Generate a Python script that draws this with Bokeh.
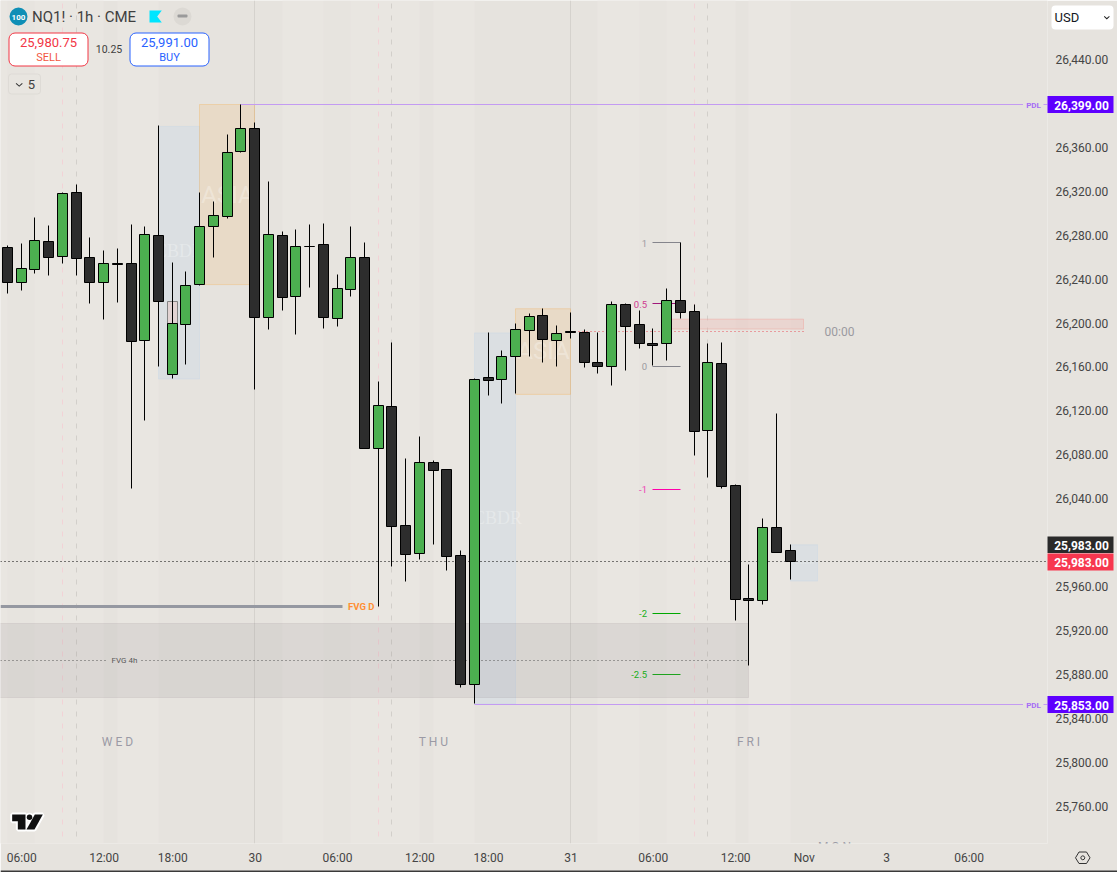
import math
from bokeh.plotting import figure
from bokeh.models import Range1d, FixedTicker, Label, BoxAnnotation, PolyAnnotation
from bokeh.core.properties import value
from bokeh.embed import file_html
from bokeh.resources import INLINE

# ---------- data ----------
opens = [26268.5,26236,26248,26274,26260,26318.5,26259,26236,26253.5,26254,26184,26279.5,26153,26198,26235,26287,26297,26355.5,26377,26205,
         26279.5,26223.5,26269,26271,26204,26230.5,26259,26085.5,26123.5,26015,25990,26072.5,26066,25987.5,25870.5,26150,26148.5,26169.5,26192.5,26206.5,
         26183.5,26192,26191,26164,26160,26216.5,26198,26181,26180.5,26220,26210,26102,26163,26051.5,25948.5,25946.5,26013,25992]
highs = [26270.5,26272,26296,26288,26318.5,26326,26277.5,26266,26267.5,26289.5,26287,26379,26254.5,26246.5,26318,26310.5,26371.5,26399,26382.5,26328,
         26283,26285,26289.5,26290.5,26244,26287,26272.5,26146.5,26182,26076.5,26096.5,26074.5,26066,25992.5,26149,26191,26174.5,26199.5,26208.5,26213,
         26197.5,26209.5,26194,26191,26219.5,26217.5,26210.5,26195,26231,26273,26216.5,26181,26182,26052.5,25979.5,26021.5,26117.5,25998]
lows = [26226,26229.5,26245,26243,26254,26243,26217.5,26203,26218.5,26048.5,26111,26159.5,26149,26162,26234,26259.5,26295,26354.5,26139,26194,
        26211,26189.5,26232,26195,26196.5,26224,26085.5,25941.5,25978,25964,25984,25998,25974.5,25868,25853,26133.5,26126.5,26135.5,26169.5,26164,
        26160,26185.5,26159,26154,26143,26156.5,26176.5,26161,26165.5,26204,26079,26059,26049,25928.5,25887.5,25943,25991,25966]
closes = [26236,26249.25,26274.75,26259,26317.5,26258,26236,26254,26252.5,26183,26280,26219.5,26199,26233.5,26287.5,26297.5,26355,26377,26205,26280,
          26222.5,26269,26269,26205,26231,26259,26085.5,26124.5,26014.5,25989,26072.5,26065.5,25987,25870.5,26148,26147,26169,26193.5,26205.5,26184.5,
          26190,26191,26164,26159.5,26216.5,26196.5,26180.5,26179.5,26220,26209.5,26101,26163.5,26051,25948,25946.5,26013,25991,25982]

y_ticks = [26440,26360,26320,26280,26240,26200,26160,26120,26080,26040,25960,25920,25880,25840,25800,25760]
x_tick_index = [1,7,12,18,24,30,35,41,47,53,58,64,70]
x_tick_labels = ["06:00","12:00","18:00","30","06:00","12:00","18:00","31","06:00","12:00","Nov","3","06:00"]
day_names = ["W E D","T H U","F R I"]
day_index = [8,31,54]
session_index = [4,5,27,28,50,51]       # pink, grey dashed verticals
day_breaks = [18,41]

pdl_high, pdl_low, last_price = 26399.0, 25853.0, 25983.0
sell_price, buy_price, spread = 25980.75, 25991.00, 10.25
fvg_box = (25926.5, 25859.0, 25892.5)
fvg_d = 25942.0
red_box = (26203.5, 26194.5)
midnight = 26192.0
cbdr_boxes = [(11,14,26379,26149),(34,37,26191,25853),(57,59,25998,25965)]
asia_boxes = [(14,18,26399,26235),(37,41,26213,26135)]
fib_levels = ["1","0.5","0","-1","-2","-2.5"]
fib_prices = [26273,26217.5,26160.5,26048.5,25935.5,25880]
fib_line = ["#85858c","#a0187a","#85858c","#ff00aa","#00a800","#1fa31f"]
fib_text = ["#9b9aa0","#cf3a90","#9b9aa0","#ee3fb4","#18ae18","#18ae18"]
LIGHT, MID = "#e9e6e1", "#e7e4df"
bands = [(-1,0,LIGHT),(0,2,MID),(2,7,LIGHT),(8,11,LIGHT),
         (20,23,LIGHT),(23,25,MID),(25,30,LIGHT),(31,34,LIGHT),
         (43,46,LIGHT),(46,48,MID),(48,53,LIGHT),(54,57,LIGHT)]

# ---------- geometry of the pane ----------
BASE = "#e6e3de"
STEP, X0, PXPT, TOP = 13.73, 7.5, 1.098, 26440 + 59 / 1.098
def dx(px): return (px - X0) / STEP
def dy(py): return TOP - py / PXPT
# the page's layer is shifted half a pixel, so whole numbers here land on pixel centres
def snap_x(i): return dx(math.floor(X0 + STEP * i))
def snap_y(v): return dy(math.floor((TOP - v) * PXPT + 0.5))
def snap_c(v): return dy(math.floor((TOP - v) * PXPT))

p = figure(frame_width=1047, frame_height=843, x_range=Range1d(dx(0), dx(1047)), y_range=Range1d(dy(843), dy(0)),
           y_axis_location="right", toolbar_location=None, output_backend="svg",
           background_fill_color=BASE, border_fill_color=BASE, outline_line_color=None,
           min_border_left=0, min_border_top=0, min_border_right=70, min_border_bottom=29)
p.styles = {"position": "absolute", "left": "0", "top": "0"}
p.grid.visible = False

# transparent sheet over the whole window for the interface texts and the price-scale tags
q = figure(frame_width=1117, frame_height=872, x_range=Range1d(dx(0), dx(1117)), y_range=Range1d(dy(872), dy(0)),
           x_axis_location=None, y_axis_location=None, toolbar_location=None, output_backend="svg",
           background_fill_color=None, border_fill_color=None, outline_line_color=None, min_border=0)
q.styles = {"position": "absolute", "left": "0", "top": "0", "z-index": "5"}
q.grid.visible = False

ax = p.xaxis[0]
ax.ticker = FixedTicker(ticks=x_tick_index)
ax.major_label_overrides = dict(zip(x_tick_index, x_tick_labels))
ay = p.yaxis[0]
ay.ticker = FixedTicker(ticks=y_ticks)
ay.formatter.use_scientific = False
ay.major_label_overrides = {t: f"{t:,.2f}" for t in y_ticks}
for a, st in ((ax, 7), (ay, 8)):
    a.axis_line_color = None
    a.major_tick_line_color = None
    a.minor_tick_line_color = None
    a.major_tick_out = 0
    a.major_tick_in = 0
    a.major_label_text_font = "Roboto"
    a.major_label_text_font_size = "12px"
    a.major_label_text_color = "#454545"
    a.major_label_standoff = st

# bands and separators
p.quad(left=[snap_x(b[0]) if b[0] >= 0 else dx(0) for b in bands], right=[snap_x(b[1]) for b in bands],
       top=dy(0), bottom=dy(843), fill_color=[b[2] for b in bands], line_color=None)
for i in day_breaks:
    p.segment(snap_x(i), dy(0), snap_x(i), dy(843), line_color="#d5d2cd", line_width=1)
for n, i in enumerate(session_index):
    p.segment(snap_x(i), dy(3), snap_x(i), dy(843), line_width=1, line_dash="5 7",
              line_color="#f2d2d6" if n % 2 == 0 else "#d2cfca")

# session boxes
for l, r, t, b in cbdr_boxes:
    p.quad(left=snap_x(l), right=snap_x(r), top=t, bottom=b, fill_color="#b8d4f0", fill_alpha=0.24,
           line_color="#b8d4f0", line_alpha=0.25)
for l, r, t, b in asia_boxes:
    p.quad(left=snap_x(l), right=snap_x(r), top=t, bottom=b, fill_color="#ff9800", fill_alpha=0.10,
           line_color="#ff9800", line_alpha=0.2)
faint = dict(text_color="#ffffff", text_align="center", text_baseline="middle")
for (l, r, t, b), fs, py in zip(cbdr_boxes, ("18px", "18px", "7px"), (250, 517, 561)):
    p.text(x=[dx(179 if l == 11 else 497 if l == 34 else 804)], y=[dy(py)], text=["CBDR"], text_font=value("Liberation Serif"),
           text_font_size=fs, text_alpha=0.28, **faint)
for (l, r, t, b), fs, py in zip(asia_boxes, ("24px", "24px"), (194, 350)):
    p.text(x=[dx(227 if l == 14 else 543)], y=[dy(py)], text=["ASIA"], text_font=value("Roboto"),
           text_font_size=fs, text_alpha=0.3, **faint)
# pale gap box at bar 12
p.quad(left=snap_x(12) - 5 / STEP, right=snap_x(12) + 5 / STEP, top=snap_y(26220), bottom=snap_y(26199), fill_color="#e2d3d3",
       line_color="#858585", line_width=1)
# red zone and its dotted level
p.quad(left=snap_x(48), right=snap_x(58), top=red_box[0], bottom=red_box[1], fill_color="#f0b0a8", fill_alpha=0.3,
       line_color="#f0a8a0", line_alpha=0.5)
p.segment(snap_x(41), snap_y(midnight), dx(803), snap_y(midnight), line_color="#e8505b", line_width=1, line_dash="1 3")
# FVG 4h
p.quad(left=dx(-4), right=snap_x(54), top=snap_y(fvg_box[0]), bottom=snap_y(fvg_box[1]), fill_color="#6e6470", fill_alpha=0.11,
       line_color="#6e6470", line_alpha=0.1)
p.segment([dx(0), dx(141)], snap_y(fvg_box[2]), [dx(107), snap_x(54)], snap_y(fvg_box[2]), line_color="#555555", line_width=1, line_dash="1 3")
# FVG D
p.segment(dx(0), snap_y(fvg_d), dx(342), snap_y(fvg_d), line_color="#9598a1", line_width=3)
# PDLs and last price
p.segment(snap_x(17), snap_y(pdl_high), dx(1022.5), snap_y(pdl_high), line_color="#c39bf2", line_width=1)
p.segment(snap_x(34), snap_y(pdl_low), dx(1022.5), snap_y(pdl_low), line_color="#c39bf2", line_width=1)
p.segment([dx(1043)]*2, [snap_y(pdl_high), snap_y(pdl_low)], [dx(1047)]*2, [snap_y(pdl_high), snap_y(pdl_low)], line_color="#c39bf2", line_width=1)
p.segment(dx(0), snap_y(last_price), dx(1047), snap_y(last_price), line_color="#000000", line_width=1, line_dash="1 3")
# fib lines
for v, c in zip(fib_prices, fib_line):
    p.segment(snap_x(47), snap_y(v), snap_x(49), snap_y(v), line_color=c, line_width=1)

# day names; Monday's is cut by the pane's bottom edge
p.text(x=[snap_x(i) for i in day_index] + [dx(834)], y=[dy(741)] * 3 + [dy(846.5)], text=day_names + ["M O N"],
       text_font=value("Roboto"), text_font_size="12px", text_color="#9b9aa5", text_align="center", text_baseline="middle")

# candles
xs = [snap_x(i) for i in range(len(opens))]
p.segment(xs, [snap_c(v) for v in highs], xs, [snap_c(v) for v in lows], line_color="#000000", line_width=1)
p.vbar(x=xs, width=10 / STEP, top=[snap_c(max(o, c)) for o, c in zip(opens, closes)],
       bottom=[snap_c(min(o, c)) for o, c in zip(opens, closes)],
       fill_color=["#4caf50" if c > o else "#2d2d2d" for o, c in zip(opens, closes)], line_color="#000000", line_width=1)

# TradingView mark
logo = [[(35,672),(75,672),(75,717),(52,717),(52,692),(35,692)], [(127,672),(102,717),(78,717),(103,672)]]
for pts in logo:
    p.patch([dx(a / 3) for a, _ in pts], [dy(590 + b / 3) for _, b in pts], fill_color="#ffffff", line_color="#ffffff", line_width=4)
p.scatter([dx(87 / 3)], [dy(590 + 680 / 3)], size=9, marker="circle", fill_color="#ffffff", line_color=None)
for pts in logo:
    p.patch([dx(a / 3) for a, _ in pts], [dy(590 + b / 3) for _, b in pts], fill_color="#111111", line_color=None)
p.scatter([dx(87 / 3)], [dy(590 + 680 / 3)], size=5.5, marker="circle", fill_color="#111111", line_color=None)

def box(l, r, t, b, fill, line=None, radius=0, lw=1):
    q.add_layout(BoxAnnotation(left=dx(l), right=dx(r), top=dy(t), bottom=dy(b), fill_color=fill, fill_alpha=1,
                               line_color=line, line_width=lw, line_alpha=1, border_radius=radius, level="annotation"))
def txt(px, py, s, size, color, align="left", font="Roboto", style="normal"):
    q.add_layout(Label(x=dx(px), y=dy(py), text=s, text_font=font, text_font_size=f"{size}px", text_color=color,
                       text_align=align, text_baseline="middle", text_font_style=style, level="annotation"))
def poly(pts, fill=None, line=None, lw=1):
    q.add_layout(PolyAnnotation(xs=[dx(a) for a, _ in pts], ys=[dy(b) for _, b in pts], fill_color=fill or "#000000",
                                fill_alpha=1 if fill else 0, line_color=line, line_width=lw, line_alpha=1, level="annotation"))

# in-pane labels
txt(360.8, 605.5, "FVG D", 9.5, "#ff8f33", "center", style="bold")
txt(124, 659.5, "FVG 4h", 8, "#5a5a5a", "center")
txt(839, 331, "00:00", 12, "#9b9aa0", "center")
txt(1033, 104.5, "PDL", 8, "#a56cf5", "center", style="bold")
txt(1033, 704.5, "PDL", 8, "#a56cf5", "center", style="bold")
for s, v, c in zip(fib_levels, fib_prices, fib_text):
    txt(646.5, (TOP - v) * PXPT + 0.5, s, 9.5, c, "right")

# legend block
box(9, 27, 7, 25, "#0f8fb6", radius=9)
txt(18, 16.5, "100", 8, "#ffffff", "center", style="bold")
txt(31.5, 16.5, "NQ1! · 1h · CME", 15, "#3f3f3f")
poly([(149, 10), (161.3, 10), (156.7, 16), (161.3, 22), (149, 22)], fill="#00e5ff")
box(173, 191, 7, 25, "#dcd9d4", radius=9)
box(177, 187, 14, 17, "#9a9a9a", radius=1)
box(8.5, 87.5, 32.5, 65.5, "#ffffff", "#f23645", radius=6)
box(129.5, 208.5, 32.5, 65.5, "#ffffff", "#2962ff", radius=6)
txt(48, 42, f"{sell_price:,.2f}", 13, "#f23645", "center")
txt(48, 56.5, "SELL", 11, "#f2563f", "center")
txt(108.5, 48.5, f"{spread:.2f}", 10.5, "#3f3f3f", "center")
txt(169, 42, f"{buy_price:,.2f}", 13, "#2962ff", "center")
txt(169, 56.5, "BUY", 11, "#2962ff", "center")
box(8, 40, 73.5, 93.5, "#e8e5e0", "#dedbd6", radius=3)
poly([(15.2, 83.2), (15.9, 82.5), (18.7, 85), (21.5, 82.5), (22.2, 83.2), (18.7, 86.3)], fill="#333333")
txt(31, 84, "5", 13, "#3f3f3f", "center")

# price-scale labels
box(1047, 1113, 95.5, 112.5, "#5e00ff")
box(1047, 1113, 695.5, 712.5, "#5e00ff")
box(1047, 1113, 536, 552.5, "#2a2a2a")
box(1047, 1113, 553, 570, "#f7374f")
for py, v in [(104.5, pdl_high), (704.5, pdl_low), (544.5, last_price), (562, last_price)]:
    txt(1081, py, f"{v:,.2f}", 12, "#ffffff", "center", style="bold")

# currency button
box(1051, 1113, 5, 29, "#ffffff", radius=4)
txt(1054, 17, "USD", 13, "#131722")
poly([(1104, 15.5), (1106.3, 17.6), (1108.6, 15.5), (1109.2, 16.2), (1106.3, 19), (1103.4, 16.2)], fill="#222222")
# settings icon
poly([(1075, 857.3), (1078.5, 851.5), (1086, 851.5), (1089.5, 857.3), (1086, 863), (1078.5, 863)], line="#333333")
poly([(1082.3 + 2 * math.cos(k * math.pi / 4), 857.3 + 2 * math.sin(k * math.pi / 4)) for k in range(8)], line="#333333")
# bottom edge of the window
box(0, 1117, 870, 872, "#3a3a3a")

open("out.html", "w").write(file_html([p, q], INLINE))
